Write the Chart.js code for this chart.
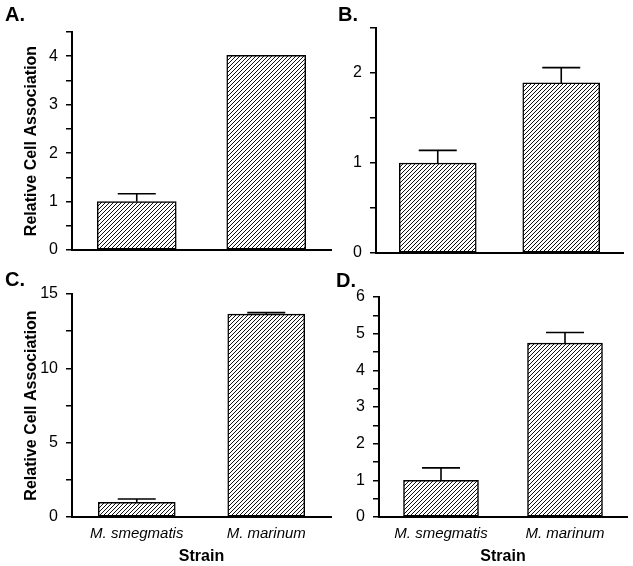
<!DOCTYPE html>
<html>
<head>
<meta charset="utf-8">
<script src="https://cdn.jsdelivr.net/npm/chart.js@4"></script>
<style>
  html, body { margin: 0; padding: 0; background: #fff; }
  #wrap { position: relative; width: 633px; height: 566px; overflow: hidden; background: #fff; }
  canvas { position: absolute; }
  .lab { position: absolute; font: bold 20px "Liberation Sans", Arial, sans-serif; line-height: 20px; color: #000; z-index: 5; }
</style>
</head>
<body>
<div id="wrap">
  <canvas id="cA" width="335" height="275" style="left:0;top:0"></canvas>
  <canvas id="cB" width="298" height="275" style="left:335px;top:0"></canvas>
  <canvas id="cC" width="335" height="291" style="left:0;top:275px"></canvas>
  <canvas id="cD" width="298" height="291" style="left:335px;top:275px"></canvas>
  <div class="lab" style="left:5px;top:4px">A.</div>
  <div class="lab" style="left:338px;top:4px">B.</div>
  <div class="lab" style="left:5px;top:269px">C.</div>
  <div class="lab" style="left:336px;top:270px">D.</div>
</div>
<script>
// ---- data ----
const categories = ['M. smegmatis', 'M. marinum'];
const valuesA = [1.0, 4.02];
const errorsA = [0.16, 0];
const valuesB = [1.0, 1.89];
const errorsB = [0.14, 0.17];
const valuesC = [0.98, 13.65];
const errorsC = [0.23, 0.1];
const valuesD = [1.0, 4.74];
const errorsD = [0.34, 0.29];
const yMajorA = [0, 1, 2, 3, 4];
const yMajorB = [0, 1, 2];
const yMajorC = [0, 5, 10, 15];
const yMajorD = [0, 1, 2, 3, 4, 5, 6];
const yTitle = 'Relative Cell Association';
const xTitle = 'Strain';

const FONT = '"Liberation Sans", Arial, Helvetica, sans-serif';

function hatch() {
  const c = document.createElement('canvas');
  c.width = 4; c.height = 4;
  const g = c.getContext('2d');
  g.fillStyle = '#fff';
  g.fillRect(0, 0, 4, 4);
  g.strokeStyle = '#111';
  g.lineWidth = 1.0;
  g.beginPath();
  g.moveTo(-1, 5); g.lineTo(5, -1);
  g.moveTo(-1, 1); g.lineTo(1, -1);
  g.moveTo(3, 5); g.lineTo(5, 3);
  g.stroke();
  return g.createPattern(c, 'repeat');
}

const errorBars = {
  id: 'errorBars',
  afterDatasetsDraw(chart, args, opts) {
    const ctx = chart.ctx;
    const meta = chart.getDatasetMeta(0);
    const ys = chart.scales.y;
    ctx.save();
    ctx.strokeStyle = '#000';
    ctx.lineWidth = 1.6;
    meta.data.forEach((bar, i) => {
      const e = opts.errors[i];
      if (!e) return;
      const v = chart.data.datasets[0].data[i];
      const yTop = ys.getPixelForValue(v + e);
      const yBar = ys.getPixelForValue(v);
      ctx.beginPath();
      ctx.moveTo(bar.x, yBar);
      ctx.lineTo(bar.x, yTop);
      ctx.moveTo(bar.x - opts.cap, yTop);
      ctx.lineTo(bar.x + opts.cap, yTop);
      ctx.stroke();
    });
    ctx.restore();
  }
};

function makeChart(id, cfg) {
  const ctx = document.getElementById(id).getContext('2d');
  new Chart(ctx, {
    type: 'bar',
    data: {
      labels: categories,
      datasets: [{
        data: cfg.values,
        backgroundColor: hatch(),
        borderColor: '#000',
        borderWidth: 1.5,
        borderSkipped: false,
        barThickness: cfg.barW
      }]
    },
    options: {
      responsive: false,
      devicePixelRatio: 1,
      animation: false,
      layout: { padding: cfg.pad },
      plugins: {
        legend: { display: false },
        tooltip: { enabled: false },
        errorBars: { errors: cfg.errors, cap: 19 }
      },
      scales: {
        x: {
          type: 'category',
          offset: true,
          grid: { display: false, drawTicks: false },
          border: { display: true, color: '#000', width: 2 },
          afterFit: (s) => { s.height = cfg.xh; },
          ticks: {
            display: cfg.showX,
            padding: 8,
            color: '#000',
            font: { family: FONT, size: 15, style: 'italic' }
          },
          title: {
            display: cfg.showX,
            text: xTitle,
            color: '#000',
            padding: { top: 0, bottom: 0 },
            font: { family: FONT, size: 16, weight: 'bold' }
          }
        },
        y: {
          min: 0, max: cfg.ymax,
          afterFit: (s) => { s.width = cfg.yw; },
          grid: { display: true, drawOnChartArea: false, drawTicks: true, tickLength: 6, color: '#000', lineWidth: 1.5 },
          border: { display: true, color: '#000', width: 2 },
          ticks: {
            stepSize: cfg.step,
            autoSkip: false,
            padding: 8,
            color: '#000',
            font: { family: FONT, size: 16 },
            callback: (v) => cfg.major.includes(v) ? String(v) : ''
          },
          title: {
            display: cfg.showY,
            text: yTitle,
            color: '#000',
            padding: { top: 22, bottom: 0 },
            font: { family: FONT, size: 16, weight: 'bold' }
          }
        }
      }
    },
    plugins: [errorBars]
  });
}

makeChart('cA', { values: valuesA, errors: errorsA, major: yMajorA, ymax: 4.5, step: 0.5,
  barW: 79, yw: 72, xh: 25, pad: { top: 32, right: 4, left: 0, bottom: 0 },
  showX: false, showY: true });
makeChart('cB', { values: valuesB, errors: errorsB, major: yMajorB, ymax: 2.5, step: 0.5,
  barW: 77, yw: 41, xh: 22, pad: { top: 28, right: 10, left: 0, bottom: 0 },
  showX: false, showY: false });
makeChart('cC', { values: valuesC, errors: errorsC, major: yMajorC, ymax: 15, step: 2.5,
  barW: 77, yw: 72, xh: 49, pad: { top: 19, right: 4, left: 0, bottom: 0 },
  showX: true, showY: true });
makeChart('cD', { values: valuesD, errors: errorsD, major: yMajorD, ymax: 6, step: 0.5,
  barW: 75, yw: 44, xh: 49, pad: { top: 22, right: 6, left: 0, bottom: 0 },
  showX: true, showY: false });
</script>
</body>
</html>
